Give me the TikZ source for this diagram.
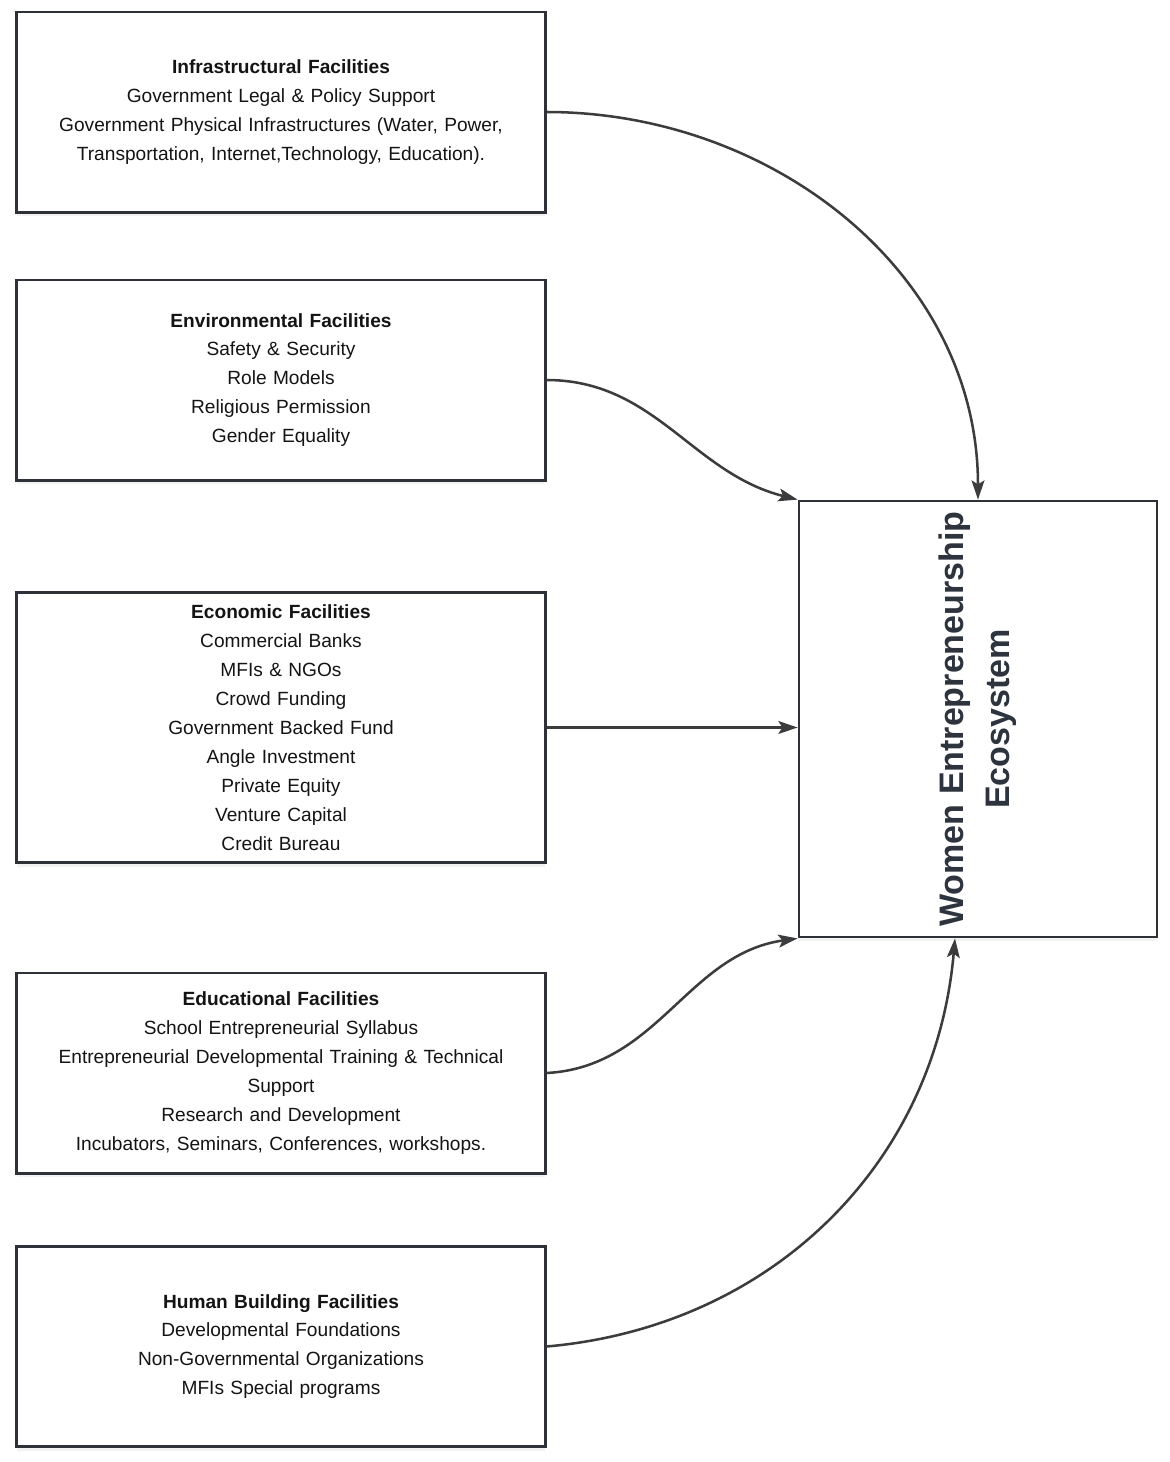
\documentclass[tikz,border=0pt]{standalone}
\usepackage{fontspec}
\setmainfont{Liberation Sans}
\usetikzlibrary{arrows.meta, positioning, shadows}
\definecolor{mydark}{RGB}{46,50,56}
\definecolor{myarrow}{RGB}{60,60,62}
\definecolor{mytext}{RGB}{20,20,20}
\definecolor{myslate}{RGB}{45,52,62}
\tikzset{
  facbox/.style={rectangle, draw=mydark, fill=white, line width=2.1pt,
    text width=12.6cm, inner sep=0.3cm, align=center, minimum height=5cm,
    text=mytext, font=\fontsize{13.6}{20.6}\selectfont,
    drop shadow={shadow xshift=0pt, shadow yshift=-3pt, opacity=0.1}},
  ecobox/.style={rectangle, draw=mydark, fill=white, line width=1.9pt,
    minimum width=8.95cm, minimum height=10.9cm, inner sep=0pt,
    drop shadow={shadow xshift=0pt, shadow yshift=-3pt, opacity=0.1}},
  ecotext/.style={rotate=90, align=center, text=myslate,
    font=\fontsize{24.2}{32.5}\selectfont\bfseries},
  flow/.style={-{Stealth[length=0.48cm, width=0.32cm, inset=0.1cm]},
    line width=1.8pt, color=myarrow}
}

\begin{document}
\begin{tikzpicture}[x=0.025cm, y=0.025cm]
  \useasboundingbox (0,0) rectangle (1170,-1462);

  % Facility boxes (left column)
  \node[facbox] (inf) at (281,-112) {\textbf{Infrastructural Facilities}\\
    Government Legal \& Policy Support\\
    Government Physical Infrastructures (Water, Power,\\
    Transportation, Internet,Technology, Education).};
  \node[facbox] (env) at (281,-380) {\textbf{Environmental Facilities}\\
    Safety \& Security\\
    Role Models\\
    Religious Permission\\
    Gender Equality};
  \node[facbox, minimum height=6.625cm] (eco_f) at (281,-727.5) {\textbf{Economic Facilities}\\
    Commercial Banks\\
    MFIs \& NGOs\\
    Crowd Funding\\
    Government Backed Fund\\
    Angle Investment\\
    Private Equity\\
    Venture Capital\\
    Credit Bureau};
  \node[facbox] (edu) at (281,-1073) {\textbf{Educational Facilities}\\
    School Entrepreneurial Syllabus\\
    Entrepreneurial Developmental Training \& Technical\\
    Support\\
    Research and Development\\
    Incubators, Seminars, Conferences, workshops.};
  \node[facbox] (hum) at (281,-1346.5) {\textbf{Human Building Facilities}\\
    Developmental Foundations\\
    Non-Governmental Organizations\\
    MFIs Special programs};

  % Ecosystem box (right)
  \node[ecobox] (eco) at (978,-719) {};
  \node[ecotext] (ecolbl) at (eco.center) {Women Entrepreneurship\\Ecosystem};

  % Connectors
  \draw[flow] (inf.east) to[out=0, in=90] (eco.north);
  \draw[flow] (env.east) to[out=0, in=166] (eco.north west);
  \draw[flow] (eco_f.east) -- (eco_f.east -| eco.west);
  \draw[flow] (edu.east) to[out=3, in=188] (eco.south west);
  \draw[flow] (hum.east) to[out=5, in=265] ([xshift=-0.575cm]eco.south);
\end{tikzpicture}
\end{document}
